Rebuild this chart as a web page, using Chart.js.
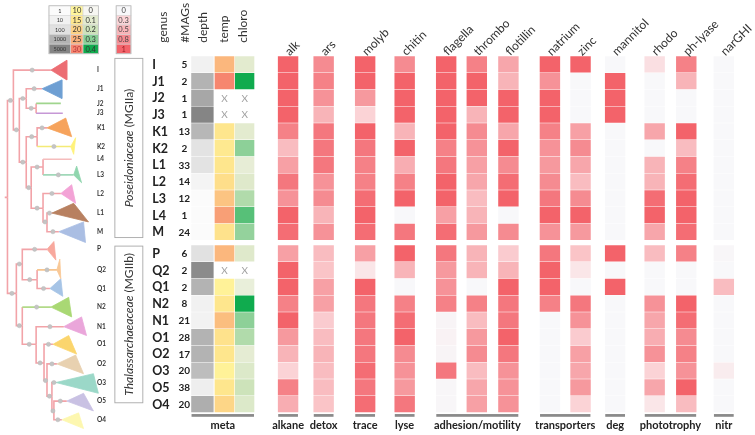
<!DOCTYPE html>
<html><head><meta charset="utf-8">
<script src="https://cdn.jsdelivr.net/npm/chart.js@4.4.0/dist/chart.umd.min.js"></script>
<style>html,body{margin:0;padding:0;background:#fff;}#wrap{width:755px;height:435px;}</style>
</head><body><div id="wrap"><canvas id="c" width="755" height="435"></canvas></div>
<script>
// ---------------- DATA ----------------
const genera = ['I','J1','J2','J3','K1','K2','L1','L2','L3','L4','M','P','Q2','Q1','N2','N1','O1','O2','O3','O5','O4'];
const mags   = [5,2,1,1,13,2,33,14,12,1,24,6,2,2,8,21,28,17,20,38,20];
const depthM = [10,1000,1500,5000,800,70,70,5,1,1,1,100,4000,1000,10,8,1000,1000,600,15,1200];
const tempVals = [24,30,null,null,15,14,15,17,22,27,16,24,null,11,15,23,16,15,11,15,19];
const chloroVals = [0.1,0.4,null,null,0.1,0.29,0.08,0.12,0.24,0.34,0.28,0.12,null,0.07,0.4,0.29,0.24,0.09,0.13,0.2,0.13];

const geneNames = ['alk','ars','molyb','chitin','flagella','thrombo','flotillin','natrium','zinc','mannitol','rhodo','ph-lyase','narGHI'];
const alk      = [1,1,1,1,0.85,0.45,0.65,0.9,0.75,1,0.95, 0.65,1,1,0.85,1,0.7,0.5,0.3,0.85,0.55];
const ars      = [0.8,0.85,0.75,0.5,0.9,0.9,0.9,0.75,0.8,0.5,0.75, 0.45,0.4,0.65,0.65,0.35,0.45,0.5,0.45,0.45,0.4];
const molyb    = [1,1,0.7,0.3,1,0.9,0.85,0.85,0.95,1,0.95, 0.65,0.15,1,0.9,0.9,0.9,0.9,0.95,0.9,0.95];
const chitin   = [0.8,1,1,1,0.5,1,0.55,0.85,1,0,0.9, 1,0.5,0,0.85,0.95,1,0.8,0.75,0.7,0.9];
const flagella = [1,1,1,1,1,0.85,0.9,1,1,0.65,0.95, 0.9,0.7,0.75,0.85,0.03,0.05,0.03,0.9,0.02,0.02];
const thrombo  = [0.85,1,1,0.5,0.8,0.75,0.65,0.6,0.45,0.5,0.7, 0.5,0.5,0,0.85,0.45,0.7,0.8,0.45,0.6,0.65];
const flotillin= [0.6,0.5,1,1,0.6,1,0.8,0.95,1,0,0.8, 0.35,0.5,1,0.9,0.9,1,0.9,0.75,0.75,0.75];
const natrium  = [1,0.75,1,1,0.85,0.75,0.7,0.8,0.9,1,0.75, 0.9,1,1,0.85,0,0,0,0,0,0];
const zinc     = [1,0,0,0,0.65,0.8,0.6,0.45,0.8,1,0.7, 0.4,0.15,0,0.9,0.75,0.35,0.65,0.6,0.7,0.3];
const mannitol = [0,1,1,1,0,0,0,0,0,0,0, 1,0,1,0,0,0,0,0,0,0];
const rhodo    = [0.2,0,0,0,0.6,0,0.5,0.5,0.95,1,0.6, 0.45,0,0,0.75,0.6,0.55,0.75,0.3,0.6,0.15];
const phlyase  = [0.85,0.5,0,0,1,0.45,0.85,0.95,1,1,0.95, 0.85,0,0,1,0.95,0.8,0.85,0.75,1,0.45];
const narGHI   = [0,0,0,0,0,0,0,0,0,0,0, 0.02,0,0.45,0,0,0,0,0.1,0,0];
const geneValues = [alk,ars,molyb,chitin,flagella,thrombo,flotillin,natrium,zinc,mannitol,rhodo,phlyase,narGHI];

const groupNames = ['meta','alkane','detox','trace','lyse','adhesion/motility','transporters','deg','phototrophy','nitr'];
const metaNames = ['genus','#MAGs','depth','temp','chloro'];
const families = ['Poseidoniaceae','Thalassarchaeaceae'];
const familyTags = [' (MGIIa)',' (MGIIb)'];

const depthTicks = [1,10,100,1000,5000];
const tempTicks = [10,15,20,25,30];
const chloroTicks = [0,0.1,0.2,0.3,0.4];
const geneTicks = [0,0.3,0.5,0.8,1];

// tree (x = branch depth, y = position in tip order)
const treeNodes = [
 {id:'root',p:null,x:3,y:197},
 {id:'IIa',p:'root',x:9,y:98},
 {id:'I',p:'IIa',x:47,y:67},
 {id:'B',p:'IIa',x:15,y:128},
 {id:'J',p:'B',x:22,y:96},
 {id:'J1',p:'J',x:38,y:86},
 {id:'J23',p:'J',x:32,y:106},
 {id:'J2',p:'J23',x:57,y:101},
 {id:'J3',p:'J23',x:59,y:111},
 {id:'KL',p:'B',x:22,y:161},
 {id:'K',p:'KL',x:33,y:135},
 {id:'K1',p:'K',x:43,y:126},
 {id:'K2',p:'K',x:67,y:145},
 {id:'L',p:'KL',x:27,y:187},
 {id:'L43',p:'L',x:39,y:166},
 {id:'L4',p:'L43',x:68,y:158},
 {id:'L3',p:'L43',x:70,y:174},
 {id:'L2M',p:'L',x:39,y:208},
 {id:'L2',p:'L2M',x:57,y:193},
 {id:'L1M',p:'L2M',x:43,y:222},
 {id:'L1',p:'L1M',x:48,y:213},
 {id:'M',p:'L1M',x:55,y:232},
 {id:'IIb',p:'root',x:12,y:295},
 {id:'PQ',p:'IIb',x:18,y:265},
 {id:'P',p:'PQ',x:43,y:250},
 {id:'Q',p:'PQ',x:33,y:281},
 {id:'Q2',p:'Q',x:53,y:271},
 {id:'Q1',p:'Q',x:46,y:290},
 {id:'N',p:'IIb',x:18,y:328},
 {id:'N2',p:'N',x:47,y:309},
 {id:'NO',p:'N',x:32,y:347},
 {id:'N1',p:'NO',x:60,y:329},
 {id:'O',p:'NO',x:40,y:366},
 {id:'O1',p:'O',x:49,y:347},
 {id:'O2x',p:'O',x:43,y:384},
 {id:'O2',p:'O2x',x:53,y:367},
 {id:'O3x',p:'O2x',x:48,y:400},
 {id:'O3',p:'O3x',x:52,y:386},
 {id:'O54',p:'O3x',x:50,y:415},
 {id:'O5',p:'O54',x:63,y:405},
 {id:'O4',p:'O54',x:58,y:424}
];
const tipOrder = ['I','J1','J2','J3','K1','K2','L4','L3','L2','L1','M','P','Q2','Q1','N2','N1','O1','O2','O3','O5','O4'];
// collapsed clades: [tip, top dx, top dy, bottom dx, bottom dy]
const cladeShapes = [
 ['I',16,10,16,10],['J1',20,9,20,10],['K1',19,10,25,9],['K2',5,9,3,8],['L3',3,9,8,8],
 ['L2',11,9,15,10],['L1',22,10,37,9],['M',25,10,27,11],['P',7,8,9,11],['Q2',3,11,4,9],
 ['Q1',11,10,13,8],['N2',18,10,21,10],['N1',18,10,23,9],['O1',16,9,24,10],['O2',19,9,27,10],
 ['O3',38,9,43,11],['O5',17,8,27,10],['O4',17,7,22,9]
];

// ---------------- STYLE / LAYOUT ----------------
const W = 755, H = 435;
const PINK = '#f2a3a8';
const cladeColors = {I:'#ec6d73',J1:'#6e9fd3',K1:'#f6a35c',K2:'#fff27a',L3:'#90d6ae',L2:'#f3a3d6',L1:'#b88060',M:'#aabee3',
  P:'#f8a89d',Q2:'#f9c896',Q1:'#a6c4e6',N2:'#a9d874',N1:'#eaa6da',O1:'#fbd56d',O2:'#e8d1b0',O3:'#9bd8c8',O5:'#c9c1e3',O4:'#fdf7b0'};
const branchColors = {J2:'#a0d58e',J3:'#c698d6',K2:'#f4ea76',L4:'#f5bcbc',L3:'#a0d8b9',Q2:'#f6c48e',N2:'#b2da88'};
const noDot = {J2:1,J3:1,L4:1};

const ROW_TOP = 53.3, PITCH = 17.1, GAP = 5, CELL_H = 15.6, BREAK = 11;
const rowCenter = i => ROW_TOP + PITCH*i + (i>=BREAK?GAP:0) + CELL_H/2;
const COL_W = 20;
const geneLeft = [277,313,355,395,437,468,500,542,573,608,648,680,718];
const metaCols = [[189.3,211.3],[213,232.3],[233.6,252.5]];
const groupSpans = [[189.3,252.5],[277,297],[313,333],[355,375],[395,415],[437,520],[542,593],[608,628],[648,700],[718,738]];
const metaHeadX = [161,183,201,222,242];
const FONT = 'Lato, "Open Sans", sans-serif';

function hex(h){return [parseInt(h.slice(1,3),16),parseInt(h.slice(3,5),16),parseInt(h.slice(5,7),16)];}
function ramp(stops, v){
  if (v<=stops[0][0]) return stops[0][1];
  for (let k=1;k<stops.length;k++){
    if (v<=stops[k][0]){
      const [a,ca]=stops[k-1],[b,cb]=stops[k]; const t=(v-a)/(b-a);
      const A=hex(ca),B=hex(cb);
      return 'rgb('+A.map((q,j)=>Math.round(q+(B[j]-q)*t)).join(',')+')';
    }
  }
  return stops[stops.length-1][1];
}
const redStops = [[0,'#f8f8fa'],[0.3,'#fbd3d6'],[0.5,'#f8b4b8'],[0.8,'#f58b91'],[1,'#f3636a']];
const depthStops = [[0,'#fbfbfb'],[1,'#f1f1f1'],[2,'#e1e1e1'],[3,'#b3b3b3'],[Math.log10(5000),'#858585']];
const tempStops = [[10,'#fff59b'],[15,'#fee68d'],[20,'#fdd286'],[25,'#fab07b'],[30,'#f6866f']];
const chloroStops = [[0,'#f7f7f2'],[0.1,'#e3ebcf'],[0.2,'#cde3ba'],[0.3,'#86ce94'],[0.4,'#10ab4e']];
const NONE = 'rgba(0,0,0,0)';
const redC = v => ramp(redStops, v);
const depthC = v => v==null?NONE:ramp(depthStops, Math.log10(v));
const tempColor = v => v==null?NONE:ramp(tempStops, v);
const chloroColor = v => v==null?NONE:ramp(chloroStops, v);

// ---------------- DATASETS ----------------
const datasets = [];
const nodeMap = {}; treeNodes.forEach(n=>nodeMap[n.id]=n);
cladeShapes.forEach(([id,dx1,dy1,dx2,dy2])=>{
  const n = nodeMap[id];
  datasets.push({type:'line', data:[{x:n.x,y:n.y},{x:n.x+dx1,y:n.y-dy1},{x:n.x+dx2,y:n.y+dy2},{x:n.x,y:n.y}],
    borderColor:cladeColors[id], backgroundColor:cladeColors[id], borderWidth:0.8, fill:'shape', pointRadius:0, tension:0, order:3});
});
datasets.push({type:'line', data:[{x:0,y:197},{x:3,y:197}], borderColor:PINK, borderWidth:1.6, pointRadius:0, fill:false, order:2});
treeNodes.forEach(n=>{
  if(!n.p) return;
  const p = nodeMap[n.p];
  const bc = branchColors[n.id] || PINK;
  datasets.push({type:'line', data:[{x:p.x,y:p.y},{x:p.x,y:n.y},{x:n.x,y:n.y}], borderColor:PINK, borderWidth:1.6,
    pointRadius:0, fill:false, tension:0, order:2, segment:{borderColor: c => c.p0DataIndex===1 ? bc : PINK}});
});
datasets.push({type:'scatter', data: treeNodes.filter(n=>n.p && !noDot[n.id]).map(n=>({x:(nodeMap[n.p].x+n.x)/2, y:n.y})),
  pointRadius:2.1, pointBackgroundColor:'#c4c4c4', pointBorderColor:'#b8b8b8', pointBorderWidth:0.5, showLine:false, order:1});

function cellColumn(values, left, right, colorFn){
  return {type:'bar', indexAxis:'y', grouped:false, barPercentage:1, categoryPercentage:1, maxBarThickness:CELL_H,
    data: values.map((v,i)=>({y:rowCenter(i), x:[left,right]})),
    backgroundColor: values.map(colorFn), borderWidth:0, order:4};
}
datasets.push(cellColumn(depthM, metaCols[0][0], metaCols[0][1], depthC));
datasets.push(cellColumn(tempVals, metaCols[1][0], metaCols[1][1], tempColor));
datasets.push(cellColumn(chloroVals, metaCols[2][0], metaCols[2][1], chloroColor));
geneValues.forEach((vals,k)=>datasets.push(cellColumn(vals, geneLeft[k], geneLeft[k]+COL_W, redC)));

// ---------------- TEXT / DECORATION PLUGIN ----------------
const decor = {
  id:'decor',
  afterDatasetsDraw(chart){
    const ctx = chart.ctx, sx = chart.scales.x, sy = chart.scales.y;
    const X = v => sx.getPixelForValue(v), Y = v => sy.getPixelForValue(v);
    ctx.save();
    // legend tables
    const rowH = 9.8, top = 1.3;
    const t1 = [[45,67,depthTicks,v=>depthC(v),5.5],[67,79.5,tempTicks,tempColor,7.5],[79.5,95,chloroTicks,chloroColor,7.5]];
    t1.forEach(([l,r,ticks,cf,fs])=>{
      ticks.forEach((v,k)=>{
        const y0 = top + k*rowH;
        ctx.fillStyle = cf(v); ctx.fillRect(X(l),Y(y0),X(r)-X(l),Y(y0+rowH)-Y(y0));
        ctx.strokeStyle = '#d6d6d6'; ctx.lineWidth = 0.6; ctx.strokeRect(X(l),Y(y0),X(r)-X(l),Y(y0+rowH)-Y(y0));
        ctx.fillStyle = (cf===tempColor && v>=30) ? '#b3333a' : '#333';
        ctx.font = fs+'px '+FONT; ctx.textAlign='center'; ctx.textBaseline='middle';
        ctx.fillText(String(v), X((l+r)/2), Y(y0+rowH/2+0.3));
      });
    });
    ctx.strokeStyle='#bdbdbd'; ctx.lineWidth=0.8; ctx.strokeRect(X(45),Y(top),X(95)-X(45),Y(top+5*rowH)-Y(top));
    geneTicks.forEach((v,k)=>{
      const y0 = top + k*rowH;
      ctx.fillStyle = redC(v); ctx.fillRect(X(113),Y(y0),X(128)-X(113),Y(y0+rowH)-Y(y0));
      ctx.strokeStyle = '#d6d6d6'; ctx.lineWidth=0.6; ctx.strokeRect(X(113),Y(y0),X(128)-X(113),Y(y0+rowH)-Y(y0));
      ctx.fillStyle = v>=1 ? '#9b1c24' : '#444'; ctx.font='7.5px '+FONT; ctx.textAlign='center'; ctx.textBaseline='middle';
      ctx.fillText(String(v), X(120.5), Y(y0+rowH/2+0.3));
    });
    ctx.strokeStyle='#bdbdbd'; ctx.lineWidth=0.8; ctx.strokeRect(X(113),Y(top),X(128)-X(113),Y(top+5*rowH)-Y(top));

    // tree tip labels
    ctx.fillStyle='#333'; ctx.font='bold 6.5px '+FONT; ctx.textAlign='left'; ctx.textBaseline='middle';
    tipOrder.forEach(id=>{ ctx.fillText(id, X(93.5), Y(nodeMap[id].y)); });

    // family boxes
    const boxes = [[111.7,55,140,238],[111.7,246.7,140,406.7]];
    boxes.forEach(([l,t,r,b],k)=>{
      ctx.strokeStyle='#a8a8a8'; ctx.lineWidth=0.9; ctx.strokeRect(X(l),Y(t),X(r)-X(l),Y(b)-Y(t));
      ctx.save(); ctx.translate(X((l+r)/2), Y((t+b)/2)); ctx.rotate(-Math.PI/2);
      const f1 = 'italic 12px '+FONT, f2 = '12px '+FONT;
      ctx.font=f1; const w1 = ctx.measureText(families[k]).width;
      ctx.font=f2; const w2 = ctx.measureText(familyTags[k]).width;
      ctx.fillStyle='#333'; ctx.textBaseline='middle'; ctx.textAlign='left';
      ctx.font=f1; ctx.fillText(families[k], -(w1+w2)/2, 0);
      ctx.font=f2; ctx.fillText(familyTags[k], -(w1+w2)/2+w1, 0);
      ctx.restore();
    });

    // genus + MAG count
    genera.forEach((g,i)=>{
      ctx.fillStyle='#222'; ctx.textBaseline='middle';
      ctx.font='bold 12.5px '+FONT; ctx.textAlign='left'; ctx.fillText(g, X(149.5), Y(rowCenter(i)+0.5));
      ctx.font='bold 10px '+FONT; ctx.textAlign='center'; ctx.fillText(String(mags[i]), X(182), Y(rowCenter(i)+0.5));
    });
    // X marks for missing meta
    ctx.fillStyle='#a0a0a0'; ctx.font='10px '+FONT; ctx.textAlign='center'; ctx.textBaseline='middle';
    [tempVals, chloroVals].forEach((vals,c)=>{
      vals.forEach((v,i)=>{ if(v==null) ctx.fillText('X', X((metaCols[c+1][0]+metaCols[c+1][1])/2), Y(rowCenter(i)+0.5)); });
    });

    // meta headers (vertical)
    ctx.fillStyle='#333'; ctx.font='12px '+FONT; ctx.textAlign='left'; ctx.textBaseline='middle';
    metaNames.forEach((s,k)=>{
      ctx.save(); ctx.translate(X(metaHeadX[k]), Y(39)); ctx.rotate(-Math.PI/2); ctx.fillText(s,0,0); ctx.restore();
    });
    // gene headers (diagonal)
    geneNames.forEach((s,k)=>{
      ctx.save(); ctx.translate(X(geneLeft[k]+COL_W/2-1), Y(50)); ctx.rotate(-Math.PI/4); ctx.fillText(s,0,0); ctx.restore();
    });

    // group bars + labels
    groupSpans.forEach(([l,r],k)=>{
      ctx.fillStyle='#8a8a8a'; ctx.fillRect(X(l),Y(418.2),X(r)-X(l),Y(421)-Y(418.2));
      ctx.fillStyle='#222'; ctx.font='bold 11px '+FONT; ctx.textAlign='center'; ctx.textBaseline='middle';
      ctx.fillText(groupNames[k], X((l+r)/2), Y(429.5));
    });
    ctx.restore();
  }
};

new Chart(document.getElementById('c'), {
  type:'bar',
  data:{datasets},
  options:{
    responsive:false, animation:false, devicePixelRatio:1,
    layout:{padding:0},
    plugins:{legend:{display:false}, tooltip:{enabled:false}},
    scales:{
      x:{type:'linear', min:0, max:W, display:false, offset:false},
      y:{type:'linear', min:0, max:H, reverse:true, display:false, offset:false}
    }
  },
  plugins:[decor]
});
</script>
</body></html>
